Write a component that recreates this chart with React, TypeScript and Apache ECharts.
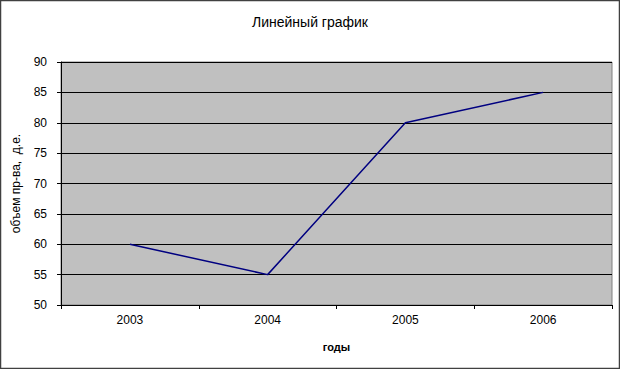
import React, { useEffect, useRef } from "react";
import * as echarts from "echarts";

const years = ["2003", "2004", "2005", "2006"];
const volume = [60, 55, 80, 85];
const titleText = "Линейный график";
const yName = "объем пр-ва,  д.е.";
const xName = "годы";

export default function App() {
  const ref = useRef<HTMLDivElement>(null);
  useEffect(() => {
    if (!ref.current) return;
    const chart = echarts.init(ref.current, undefined, { renderer: "svg" });
    const font = "'Liberation Sans', Arial, sans-serif";
    chart.setOption({
      animation: false,
      backgroundColor: "#ffffff",
      textStyle: { fontFamily: font },
      title: {
        text: titleText,
        left: "center",
        top: 10,
        textStyle: { fontFamily: font, fontSize: 14, fontWeight: "normal", color: "#000" },
      },
      graphic: [
        {
          type: "rect",
          shape: { x: 0.5, y: 0.5, width: 619, height: 368 },
          style: { fill: "none", stroke: "#404040", lineWidth: 1.5 },
          silent: true,
        },
      ],
      grid: {
        left: 61,
        right: 8,
        top: 62,
        bottom: 64,
        show: true,
        backgroundColor: "#c0c0c0",
        borderColor: "#808080",
        borderWidth: 1,
      },
      xAxis: {
        type: "category",
        data: years,
        boundaryGap: true,
        name: xName,
        nameLocation: "middle",
        nameGap: 36,
        nameTextStyle: { fontFamily: font, fontSize: 11, fontWeight: "bold", color: "#000" },
        axisLine: { lineStyle: { color: "#000", width: 1 } },
        axisTick: { show: true, length: 4, lineStyle: { color: "#000" } },
        axisLabel: { fontFamily: font, fontSize: 12, color: "#000", margin: 9 },
        splitLine: { show: false },
      },
      yAxis: {
        type: "value",
        min: 50,
        max: 90,
        interval: 5,
        name: yName,
        nameLocation: "middle",
        nameRotate: 90,
        nameGap: 39,
        nameTextStyle: { fontFamily: font, fontSize: 12, color: "#000" },
        axisLine: { show: true, lineStyle: { color: "#000", width: 1 } },
        axisTick: { show: true, length: 4, lineStyle: { color: "#000" } },
        axisLabel: { fontFamily: font, fontSize: 12, color: "#000", margin: 14 },
        splitLine: { show: true, lineStyle: { color: "#000", width: 1 } },
      },
      series: [
        {
          type: "line",
          data: volume,
          showSymbol: false,
          symbol: "none",
          lineStyle: { color: "#000080", width: 1.5 },
        },
      ],
    });
    return () => chart.dispose();
  }, []);
  return (
    <div
      ref={ref}
      style={{ position: "fixed", left: 0, top: 0, width: 620, height: 369 }}
    />
  );
}
